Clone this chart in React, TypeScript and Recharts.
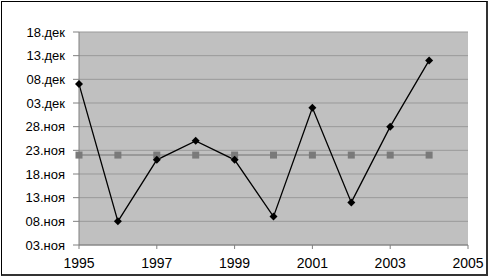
import { LineChart, Line, XAxis, YAxis, CartesianGrid } from 'recharts'

// ─── Data ─────────────────────────────────────────────────────────────────────

const years = [1995, 1996, 1997, 1998, 1999, 2000, 2001, 2002, 2003, 2004]
// observed date (dd.mm) per year
const observed = ['07.12', '08.11', '21.11', '25.11', '21.11', '09.11', '02.12', '12.11', '28.11', '12.12']
// long-term mean date
const mean = ['22.11', '22.11', '22.11', '22.11', '22.11', '22.11', '22.11', '22.11', '22.11', '22.11']

const yTickLabels = [
  '03.ноя', '08.ноя', '13.ноя', '18.ноя', '23.ноя',
  '28.ноя', '03.дек', '08.дек', '13.дек', '18.дек',
]
const xTicks = [1995, 1997, 1999, 2001, 2003, 2005]

// ─── Helpers ──────────────────────────────────────────────────────────────────

// days counted from 03.11
function toDays(s: string): number {
  const [d, m] = s.split('.').map(Number)
  return m === 11 ? d - 3 : 27 + d
}

const data = years.map((y, i) => ({
  year: y,
  observed: toDays(observed[i]),
  mean: toDays(mean[i]),
}))

const yTicks = yTickLabels.map((_, i) => i * 5)

function Diamond(props: any) {
  const { cx, cy, index } = props
  if (cx == null || cy == null) return <g key={`d-${index}`} />
  const r = 4
  return (
    <polygon
      key={`d-${index}`}
      points={`${cx},${cy - r} ${cx + r},${cy} ${cx},${cy + r} ${cx - r},${cy}`}
      fill="#000"
    />
  )
}

function Square(props: any) {
  const { cx, cy, index } = props
  if (cx == null || cy == null) return <g key={`s-${index}`} />
  return <rect key={`s-${index}`} x={cx - 3.5} y={cy - 3.5} width={7} height={7} fill="#7a7a7a" />
}

// ─── Component ────────────────────────────────────────────────────────────────

export default function App() {
  return (
    <div style={{ position: 'absolute', left: 0, top: 0, width: 490, height: 278, background: '#fff' }}>
      <div
        style={{
          position: 'absolute', left: 1, top: 1, width: 484, height: 272,
          borderTop: '1px solid #000', borderLeft: '1px solid #000',
          borderRight: '2px solid #333', borderBottom: '2px solid #333',
        }}
      />
      <div style={{ position: 'absolute', left: 0, top: 0 }}>
        <LineChart
          width={490}
          height={278}
          data={data}
          margin={{ top: 32, right: 22, bottom: 0, left: 0 }}
          style={{ fontFamily: '"Liberation Sans", Arial, sans-serif' }}
        >
          <CartesianGrid vertical={false} fill="#c0c0c0" stroke="#999999" strokeWidth={1} />
          <XAxis
            dataKey="year"
            type="number"
            domain={[1995, 2005]}
            ticks={xTicks}
            interval={0}
            height={33}
            tickSize={4}
            tickMargin={9}
            stroke="#808080"
            tick={{ fontSize: 14, fill: '#000' }}
          />
          <YAxis
            type="number"
            domain={[0, 45]}
            ticks={yTicks}
            interval={0}
            width={79}
            tickSize={6}
            tickMargin={8}
            stroke="#808080"
            tick={{ fontSize: 13, fill: '#000' }}
            tickFormatter={(v: number) => yTickLabels[Math.round(v / 5)] ?? ''}
          />
          <Line
            dataKey="mean"
            stroke="#8c8c8c"
            strokeWidth={1.5}
            dot={Square}
            isAnimationActive={false}
          />
          <Line
            dataKey="observed"
            stroke="#000"
            strokeWidth={1.3}
            dot={Diamond}
            isAnimationActive={false}
          />
        </LineChart>
      </div>
    </div>
  )
}
